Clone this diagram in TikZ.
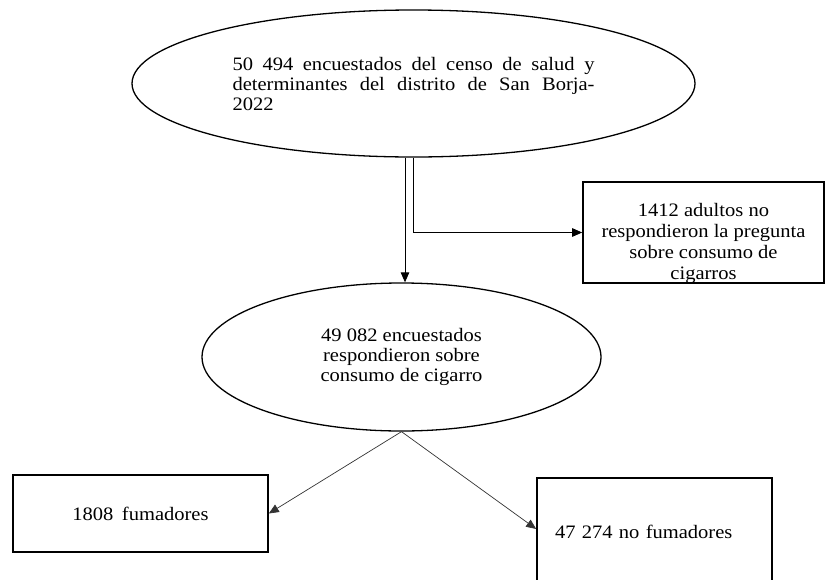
\documentclass[tikz,border=0pt]{standalone}
\usepackage{fontspec}
\setmainfont{Liberation Serif}[FakeStretch=1.08]
\usetikzlibrary{arrows.meta,shapes.geometric}
\tikzset{
  ovalnode/.style={draw, ellipse, line width=1.3pt, inner sep=0pt},
  boxnode/.style={draw, rectangle, line width=1.6pt, inner sep=0pt},
  txtfont/.style={font=\fontsize{19pt}{20pt}\selectfont},
  conn/.style={line width=0.9pt, -{Triangle[length=10pt,width=8.5pt]}},
  thinconn/.style={line width=0.7pt, draw=black!80, -{Triangle[length=10pt,width=8.5pt]}}
}
\begin{document}
\begin{tikzpicture}[x=1pt,y=-1pt]
\path[use as bounding box] (0,0) rectangle (828,579);
\clip (0,0) rectangle (828,579);

\node[ovalnode, txtfont, minimum width=563pt, minimum height=147pt, align=left] (e1) at (413.5,83.5)
  {\makebox[362pt][s]{50 494 encuestados del censo de salud y}\\
   \makebox[362pt][s]{determinantes del distrito de San Borja-}\\
   \makebox[362pt][l]{2022}};

\node[boxnode, minimum width=241pt, minimum height=101pt,
  label={[txtfont, align=center, font=\fontsize{19pt}{21pt}\selectfont, yshift=-10.5pt]center:{1412 adultos no\\respondieron la pregunta\\sobre consumo de\\cigarros}}] (b1) at (703.5,232.5) {};

\node[ovalnode, txtfont, minimum width=399pt, minimum height=148pt, align=center] (e2) at (401.5,357)
  {49 082 encuestados\\respondieron sobre\\consumo de cigarro};

\node[boxnode, txtfont, minimum width=255pt, minimum height=77pt] (b2) at (140.5,513.5)
  {1808\hspace{0.45em}fumadores};

\node[boxnode, txtfont, minimum width=235pt, minimum height=108pt, text width=199pt, inner xsep=18pt, align=left] (b3) at (654.5,532)
  {47 274 no fumadores};

\draw[conn] ([xshift=-8.5pt]e1.south) -- ([xshift=-8.5pt]e1.south |- e2.north);
\draw[conn] (e1.south) |- (b1.west);
\draw[thinconn] (e2.south) -- (b2.east);
\draw[thinconn] (e2.south) -- ([yshift=3pt]b3.west);
\end{tikzpicture}
\end{document}
